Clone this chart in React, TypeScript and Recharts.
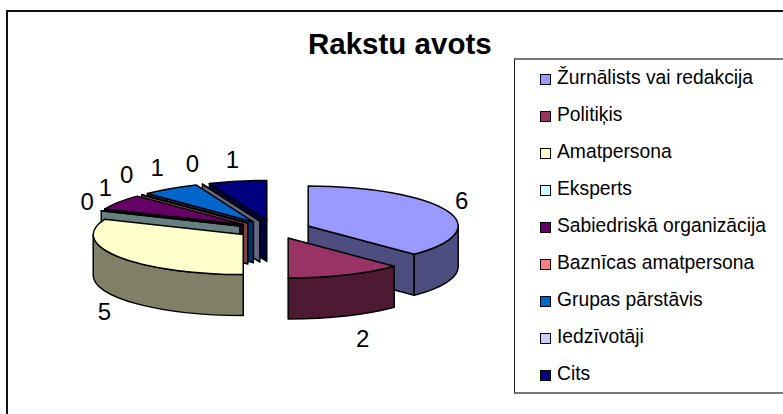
import { PieChart, Pie, Legend } from 'recharts';

const categories = [
    'Žurnālists vai redakcija', 'Politiķis', 'Amatpersona', 'Eksperts', 'Sabiedriskā organizācija',
    'Baznīcas amatpersona', 'Grupas pārstāvis', 'Iedzīvotāji', 'Cits',
];
const values = [6, 2, 5, 0, 1, 0, 1, 0, 1];
const colors = ['#9999FF', '#993366', '#FFFFCC', '#CCFFFF', '#660066', '#FF8080', '#0066CC', '#CCCCFF', '#000080'];
const sideColors = ['#4D4D80', '#4D1933', '#808066', '#668080', '#330033', '#804040', '#003366', '#666680', '#000040'];
// painter's order, back slices first
const drawOrder = [8, 7, 6, 5, 4, 3, 0, 2, 1];
// label offset from the rim point of each slice
const labelNudge = [[15, -10], [17, 64], [-14, 55], [-14, -9], [-13, -15], [-15, -20], [-13, -21], [-10, -21], [-5, -22]];

const data = categories.map((name, i) => ({ name, value: values[i], fill: colors[i], side: sideColors[i], idx: i }));

const SQUASH = 40 / 150;
const DEPTH = 41;
const EXPLODE_X = 37;
const EXPLODE_Y = 9.2;
const rad = (d: number) => (d * Math.PI) / 180;

const Slice3D = (props: any) => {
    const { cx, cy, outerRadius: rx, startAngle, endAngle, payload } = props;
    const idx = payload.idx;
    const ry = rx * SQUASH;
    // recharts angles -> clockwise degrees from 12 o'clock
    const a0 = 90 - startAngle;
    const a1 = 90 - endAngle;
    const mid = (a0 + a1) / 2;
    const ox = cx + EXPLODE_X * Math.sin(rad(mid));
    const oy = cy - EXPLODE_Y * Math.cos(rad(mid));
    const pt = (a: number, dz = 0): [number, number] => [ox + rx * Math.sin(rad(a)), oy - ry * Math.cos(rad(a)) + dz];
    const arc = (a: number, b: number, dz = 0, rev = false) => {
        const [x, y] = pt(rev ? a : b, dz);
        return `A${rx} ${ry} 0 ${Math.abs(b - a) > 180 ? 1 : 0} ${rev ? 0 : 1} ${x} ${y}`;
    };
    const edge = { stroke: '#000', strokeWidth: 1.5, strokeLinejoin: 'round' as const };

    const faces: string[] = [];
    const face = (a: number) => {
        const r = pt(a);
        faces.push(`M${ox} ${oy}L${r[0]} ${r[1]}L${r[0]} ${r[1] + DEPTH}L${ox} ${oy + DEPTH}Z`);
    };
    if (Math.sin(rad(a0)) < -1e-6) face(a0);
    if (Math.sin(rad(a1)) > 1e-6) face(a1);

    // front part of the rim only
    const from = Math.max(a0, 90);
    const to = Math.min(a1, 270);
    let rim = '';
    if (to > from) {
        const s = pt(from);
        const e = pt(to, DEPTH);
        rim = `M${s[0]} ${s[1]}${arc(from, to)}L${e[0]} ${e[1]}${arc(from, to, DEPTH, true)}Z`;
    }

    const st = pt(a0);
    const top = `M${ox} ${oy}L${st[0]} ${st[1]}${arc(a0, a1)}Z`;
    const rimMid = pt(mid);

    return (
        <g>
            {faces.map((d, i) => <path key={i} d={d} fill={payload.side} {...edge} />)}
            {rim && <path d={rim} fill={payload.side} {...edge} />}
            <path d={top} fill={payload.fill} {...edge} />
            <text
                x={rimMid[0] + labelNudge[idx][0]}
                y={rimMid[1] + labelNudge[idx][1]}
                textAnchor="middle"
                dominantBaseline="central"
                fontSize={24}
                fontFamily="Liberation Sans"
                fill="#000"
            >
                {payload.value}
            </text>
        </g>
    );
};

const renderLegend = (props: any) => {
    const items = (props.payload || []).slice(0, categories.length);
    return (
        <div style={{ position: 'relative', width: '100%', height: '100%' }}>
            {items.map((it: any, i: number) => (
                <div key={it.value} style={{ position: 'absolute', left: 25, top: 17.5 + i * 37, height: 0, whiteSpace: 'nowrap' }}>
                    <span style={{
                        position: 'absolute', left: 0, top: -4, width: 9, height: 9,
                        background: it.color, border: '1.4px solid #000',
                    }} />
                    <span style={{
                        position: 'absolute', left: 17, top: -11, lineHeight: '22px',
                        fontSize: 19.3, fontFamily: 'Liberation Sans', color: '#000',
                    }}>{it.value}</span>
                </div>
            ))}
        </div>
    );
};

export default function App() {
    return (
        <div style={{ position: 'absolute', left: 0, top: 0, width: 783, height: 414, overflow: 'hidden', background: '#fff' }}>
            <div style={{ position: 'absolute', left: 6, top: 10, width: 790, height: 420, borderLeft: '2px solid #111', borderTop: '2px solid #111' }} />
            <div style={{
                position: 'absolute', left: 308, top: 24, fontFamily: 'Liberation Sans', fontWeight: 700,
                fontSize: 29.5, lineHeight: '40px', color: '#000', whiteSpace: 'nowrap',
            }}>Rakstu avots</div>
            <PieChart width={783} height={414} margin={{ top: 0, right: 0, bottom: 0, left: 0 }} style={{ position: 'absolute', left: 0, top: 0 }}>
                {drawOrder.map((k) => (
                    <Pie
                        key={k}
                        data={data}
                        dataKey="value"
                        nameKey="name"
                        cx={274}
                        cy={229.5}
                        outerRadius={150}
                        startAngle={90}
                        endAngle={-270}
                        paddingAngle={0}
                        stroke="none"
                        label={false}
                        labelLine={false}
                        isAnimationActive={false}
                        shape={(p: any) => (p.payload.idx === k ? <Slice3D {...p} /> : <g />)}
                    />
                ))}
                <Legend
                    content={renderLegend}
                    itemSorter={null}
                    wrapperStyle={{
                        position: 'absolute', left: 514, top: 58, width: 290, height: 336, boxSizing: 'border-box',
                        borderLeft: '1.5px solid #222', borderTop: '2px solid #777', borderBottom: '2px solid #777',
                    }}
                />
            </PieChart>
        </div>
    );
}
